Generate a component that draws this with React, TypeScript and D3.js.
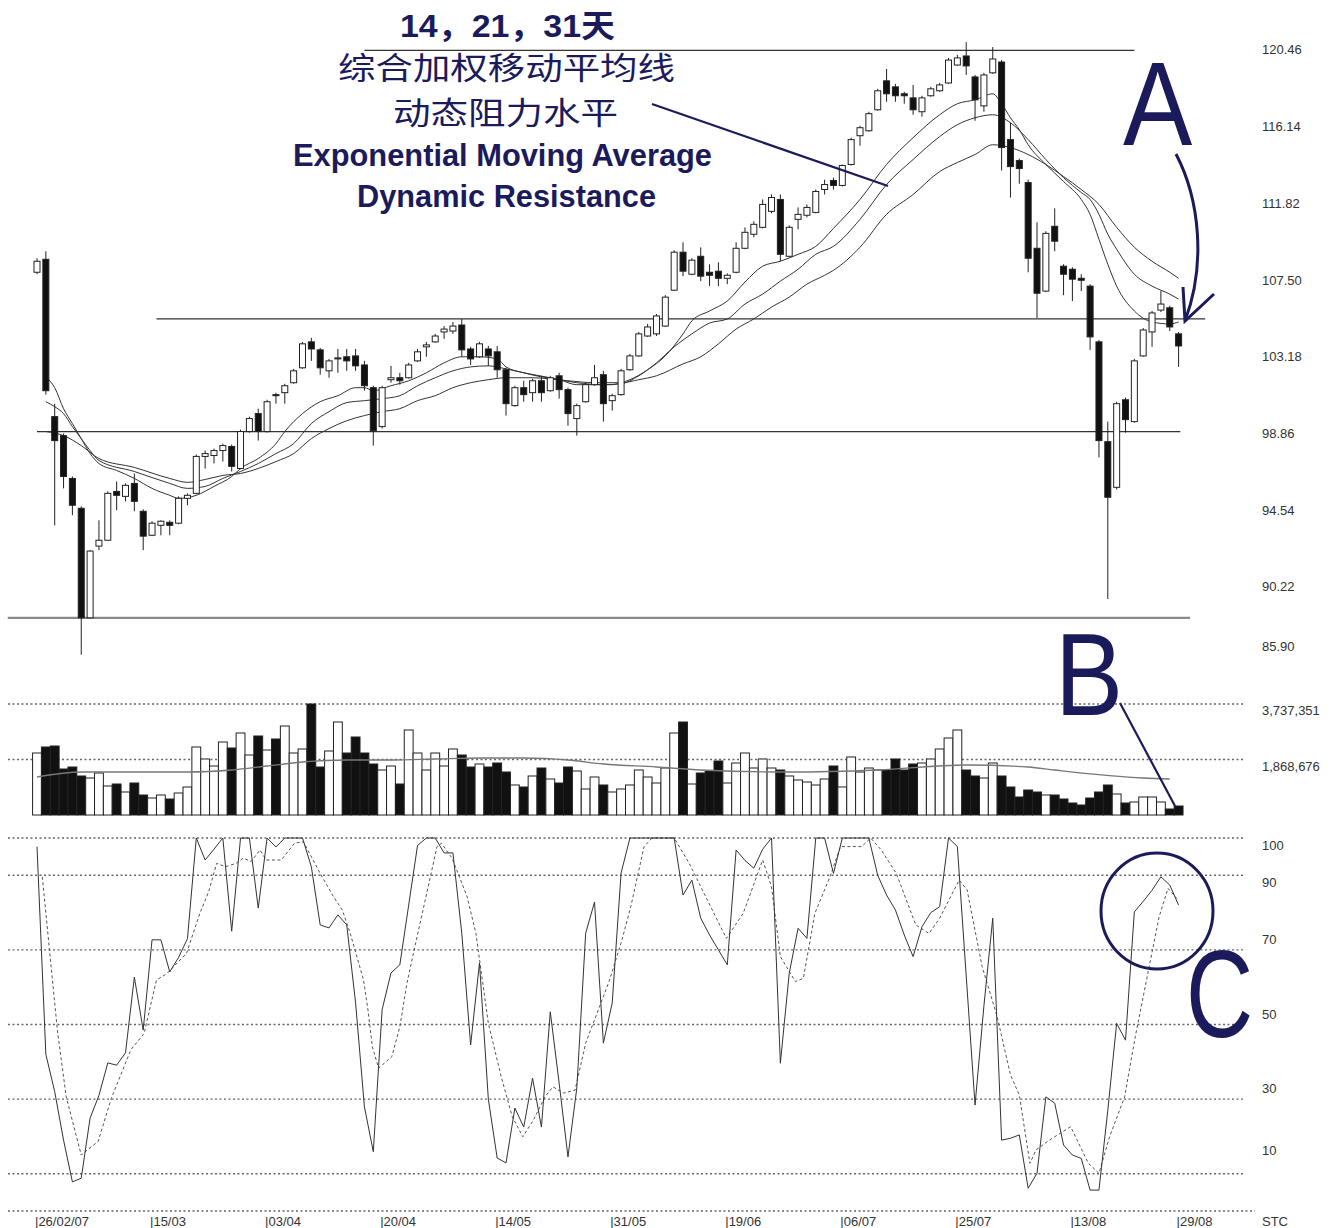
import * as d3 from "d3";

// ---------- data ----------
const tickLabels = ["26/02/07", "15/03", "03/04", "20/04", "14/05", "31/05", "19/06", "06/07", "25/07", "13/08", "29/08"];
const tickBars = [0, 13, 26, 39, 52, 65, 78, 91, 104, 117, 129];

const opens = [
  108.0, 108.73, 99.87, 98.8, 96.39, 94.71, 88.54, 92.58, 92.91, 95.66,
  95.38, 96.11, 94.54, 93.19, 93.75, 93.92, 93.87, 95.27, 95.55, 97.63,
  97.68, 97.96, 98.19, 96.95, 99.03, 100.04, 99.03, 101.11, 101.22, 101.78,
  102.62, 104.08, 103.63, 102.45, 103.12, 103.24, 103.29, 102.78, 101.5, 99.31,
  101.95, 102.06, 102.06, 103.01, 103.8, 104.08, 104.64, 104.69, 105.03, 103.68,
  103.24, 103.68, 103.52, 102.51, 100.49, 101.5, 101.22, 101.89, 101.33, 102.17,
  101.39, 99.76, 100.71, 101.67, 102.23, 100.77, 101.11, 102.51, 103.29, 104.41,
  104.53, 104.97, 106.99, 109.13, 107.89, 108.9, 108.0, 108.06, 107.66, 108.0,
  109.35, 110.14, 110.53, 111.43, 112.1, 108.9, 110.98, 111.21, 111.37, 112.66,
  113.17, 112.89, 114.07, 115.69, 115.97, 117.15, 118.78, 118.44, 118.05, 117.82,
  117.04, 117.94, 118.22, 118.66, 119.67, 120.18, 119.0, 117.37, 119.23, 119.84,
  115.47, 114.29, 113.05, 109.35, 106.94, 110.59, 108.34, 108.17, 107.66, 107.22,
  104.08, 98.46, 95.89, 100.82, 99.59, 103.29, 104.64, 105.87, 106.0, 104.53,
];
const highs = [
  108.79, 109.18, 100.6, 98.92, 96.5, 94.82, 92.35, 94.03, 95.66, 96.22,
  96.11, 96.67, 94.65, 93.98, 94.03, 94.03, 95.38, 95.55, 97.74, 97.96,
  98.07, 98.35, 98.3, 99.14, 99.87, 100.32, 100.82, 101.22, 101.72, 102.56,
  104.08, 104.31, 103.74, 103.12, 103.68, 103.68, 103.68, 103.01, 101.61, 101.61,
  102.73, 102.34, 102.9, 103.68, 104.08, 104.53, 104.97, 105.2, 105.37, 103.8,
  104.08, 103.85, 103.85, 102.62, 101.61, 101.89, 102.01, 102.17, 102.17, 102.34,
  101.5, 100.6, 101.78, 102.78, 102.45, 101.16, 102.56, 103.4, 104.64, 105.09,
  105.65, 106.71, 109.24, 109.69, 108.79, 109.4, 108.45, 108.56, 107.94, 109.69,
  110.53, 110.87, 112.1, 112.38, 112.38, 110.64, 111.65, 111.82, 112.66, 113.22,
  113.33, 114.07, 115.58, 116.25, 117.04, 118.33, 119.45, 118.61, 118.16, 118.55,
  117.94, 118.44, 118.66, 120.07, 120.24, 120.96, 119.11, 119.23, 120.68, 119.95,
  116.42, 114.4, 113.22, 110.81, 110.31, 111.6, 108.45, 108.28, 107.89, 107.33,
  104.19, 99.59, 100.71, 100.94, 103.12, 104.86, 105.82, 106.94, 106.12, 104.64,
];
const lows = [
  107.89, 101.11, 93.75, 95.83, 94.32, 86.46, 88.54, 92.35, 92.91, 94.6,
  95.1, 94.54, 92.35, 93.14, 93.19, 93.19, 93.81, 94.88, 95.5, 96.95,
  97.23, 97.34, 96.78, 96.9, 98.97, 98.52, 98.97, 100.6, 100.6, 101.72,
  102.56, 103.01, 102.23, 102.06, 102.34, 102.45, 102.45, 101.33, 98.24, 99.2,
  101.78, 101.67, 102.01, 102.95, 103.24, 104.03, 104.25, 104.53, 103.24, 102.78,
  103.18, 102.73, 102.06, 99.93, 100.43, 100.71, 100.71, 100.71, 101.27, 100.88,
  99.36, 98.8, 100.66, 101.61, 99.59, 100.21, 101.05, 102.45, 103.24, 104.36,
  104.41, 104.92, 106.94, 107.78, 107.83, 107.5, 107.22, 107.22, 107.33, 107.94,
  109.3, 109.97, 110.47, 111.32, 108.62, 108.85, 110.42, 111.09, 111.32, 112.38,
  112.66, 112.83, 114.01, 115.13, 115.92, 117.09, 117.6, 117.6, 117.49, 116.87,
  116.76, 117.88, 118.16, 118.61, 119.62, 119.11, 116.53, 117.04, 119.17, 113.73,
  112.21, 112.99, 108.0, 105.42, 106.88, 109.18, 106.71, 106.38, 106.94, 103.63,
  97.57, 89.6, 95.77, 98.97, 99.53, 103.24, 103.8, 105.76, 104.69, 102.67,
];
const closes = [
  108.62, 101.33, 98.52, 96.5, 94.88, 88.54, 92.3, 92.91, 95.55, 95.44,
  96.0, 95.1, 93.14, 93.87, 93.98, 93.75, 95.27, 95.44, 97.63, 97.79,
  97.96, 98.24, 97.07, 99.03, 99.76, 99.03, 100.71, 101.05, 101.61, 102.45,
  103.97, 103.68, 102.62, 103.01, 103.18, 103.01, 102.73, 101.61, 99.08, 101.5,
  102.06, 101.89, 102.78, 103.52, 103.91, 104.41, 104.8, 104.97, 103.63, 103.12,
  103.97, 103.29, 102.51, 100.6, 101.5, 101.11, 101.89, 101.22, 102.06, 101.39,
  100.04, 100.49, 101.67, 102.06, 100.6, 101.05, 102.45, 103.29, 104.53, 104.92,
  105.54, 106.6, 109.13, 108.06, 108.68, 107.78, 107.83, 107.66, 107.83, 109.35,
  110.25, 110.7, 111.82, 112.21, 109.01, 110.53, 111.26, 111.65, 112.55, 112.94,
  112.89, 114.01, 115.47, 116.14, 116.93, 118.22, 118.05, 117.94, 117.94, 117.15,
  117.82, 118.33, 118.55, 119.95, 120.07, 119.62, 117.71, 119.11, 120.01, 115.02,
  113.95, 113.84, 108.79, 106.82, 110.19, 109.75, 107.89, 107.61, 107.55, 104.36,
  98.52, 95.33, 100.6, 99.7, 103.01, 104.75, 105.71, 106.21, 104.92, 103.85,
];

const volumes = [
  2087540, 2289560, 2323230, 1548820, 1616160, 1313130, 1245790, 1414140, 976430, 1043770,
  774410, 1077440, 673400, 572390, 673400, 538720, 740740, 942760, 2289560, 1885520,
  1649830, 2457910, 2255890, 2760940, 2020200, 2659930, 2188550, 2558920, 2996630, 2087540,
  2222220, 3737351, 1616160, 2154880, 3131310, 2087540, 2626260, 2087540, 1717170, 1515150,
  1649830, 1043770, 2861950, 2087540, 1515150, 2087540, 1649830, 2222220, 2020200, 1616160,
  1717170, 1616160, 1750840, 1447810, 1010100, 942760, 1313130, 1582490, 1212120, 1077440,
  1616160, 1481480, 875420, 1279460, 1010100, 774410, 875420, 1010100, 1515150, 1279460,
  1077440, 1582490, 2760940, 3131310, 1043770, 1414140, 1481480, 1818180, 1077440, 1750840,
  2087540, 1582490, 1885520, 1582490, 1515150, 1313130, 1178450, 1111110, 1010100, 1212120,
  1649830, 942760, 1952860, 1447810, 1582490, 1515150, 1515150, 1885520, 1515150, 1717170,
  1750840, 1885520, 2222220, 2592590, 2861950, 1515150, 1313130, 1245790, 1750840, 1313130,
  942760, 606060, 841750, 774410, 673400, 673400, 538720, 404040, 336700, 572390,
  774410, 1010100, 707070, 404040, 437710, 606060, 606060, 437710, 202020, 303030,
];

// volume moving average: [bar, volume]
const volAvg: [number, number][] = [
  [0, 1279460], [5, 1447810], [17, 1447810], [22, 1515150], [26, 1649830], [30, 1784510],
  [35, 1851850], [40, 1851850], [45, 1885520], [50, 1919190], [55, 1919190], [60, 1851850],
  [64, 1717170], [70, 1616160], [75, 1515150], [85, 1447810], [95, 1515150], [105, 1683500],
  [112, 1616160], [115, 1515150], [125, 1245790], [128, 1212120],
];

// EMA 14 / 21 / 31: [bar, price]
const ema14: [number, number][] = [
  [1, 102.11], [2, 101.5], [3, 100.32], [4, 99.48], [5, 98.63], [6, 97.79], [7, 97.23], [9, 96.84],
  [11, 96.39], [13, 95.83], [15, 95.44], [16, 95.27], [18, 95.44], [20, 95.94], [22, 96.5], [23, 96.95],
  [25, 97.51], [27, 98.35], [28, 99.03], [30, 100.04], [32, 100.71], [34, 101.05], [36, 101.5], [37, 101.5],
  [38, 101.33], [40, 101.61], [42, 101.89], [44, 102.34], [46, 102.9], [48, 103.24], [50, 103.24], [52, 103.12],
  [53, 102.67], [55, 102.34], [57, 102.11], [59, 101.95], [61, 101.67], [63, 101.67], [65, 101.67], [66, 101.78],
  [67, 101.95], [69, 102.51], [71, 103.29], [73, 104.53], [74, 105.26], [76, 105.82], [78, 106.38], [80, 107.45],
  [82, 108.34], [84, 108.62], [86, 109.01], [88, 109.46], [90, 110.47], [93, 112.1], [96, 114.07], [99, 115.58],
  [102, 116.87], [104, 117.49], [106, 117.71], [108, 118.05], [109, 117.49], [110, 116.7], [111, 116.03],
  [112, 115.18], [114, 114.07], [116, 113.11], [118, 112.1], [119, 111.26], [120, 109.86], [121, 108.45],
  [122, 107.22], [124, 105.82], [126, 105.2], [128, 105.09], [129, 105.2],
];
const ema21: [number, number][] = [
  [1, 100.71], [2, 100.43], [3, 100.04], [4, 99.31], [5, 98.63], [6, 97.96], [7, 97.4], [11, 96.78],
  [15, 96.11], [17, 95.83], [19, 95.94], [21, 96.39], [23, 96.78], [25, 97.23], [27, 97.79], [29, 98.35],
  [31, 99.48], [33, 100.15], [35, 100.66], [37, 100.77], [39, 100.88], [41, 101.05], [43, 101.61], [45, 102.06],
  [47, 102.45], [49, 102.67], [51, 102.73], [53, 102.56], [55, 102.34], [58, 102.06], [61, 101.78], [64, 101.67],
  [66, 101.72], [68, 102.17], [70, 102.9], [72, 103.8], [74, 104.53], [76, 105.14], [78, 105.37], [80, 106.21],
  [82, 106.77], [84, 107.5], [86, 108.17], [88, 109.01], [90, 109.46], [93, 110.98], [96, 112.94], [99, 114.35],
  [102, 115.64], [104, 116.31], [106, 116.7], [108, 116.87], [110, 116.42], [112, 115.47], [114, 114.35],
  [116, 113.33], [118, 112.49], [119, 112.1], [120, 111.26], [121, 110.14], [122, 109.3], [124, 107.89],
  [126, 107.22], [128, 106.77], [129, 106.49],
];
const ema31: [number, number][] = [
  [1, 99.03], [3, 98.8], [5, 98.24], [7, 97.51], [11, 97.01], [15, 96.39], [17, 96.17], [19, 96.33],
  [21, 96.56], [23, 96.67], [25, 96.95], [27, 97.34], [29, 97.79], [31, 98.63], [33, 99.2], [35, 99.64],
  [37, 99.93], [39, 100.15], [41, 100.32], [43, 100.77], [45, 101.05], [47, 101.5], [49, 101.78], [51, 101.95],
  [53, 102.06], [56, 102.06], [60, 101.89], [63, 101.78], [66, 101.78], [68, 101.95], [70, 102.17], [73, 102.84],
  [75, 103.24], [77, 103.97], [79, 104.8], [81, 105.37], [83, 106.04], [85, 106.6], [87, 107.33], [89, 107.83],
  [90, 108.11], [93, 109.41], [96, 111.26], [99, 112.38], [102, 113.67], [104, 114.18], [106, 114.63],
  [108, 115.18], [110, 115.02], [112, 114.63], [114, 114.07], [116, 113.39], [118, 112.66], [120, 111.82],
  [122, 110.53], [124, 109.41], [126, 108.62], [128, 108.0], [129, 107.66],
];

// stochastic %K (one per bar) and %D ([bar, value])
const stochK = [
  97.7, 42, 32, 19, 7.8, 8.8, 24.9, 31, 39.7, 39.1,
  42.4, 62.7, 48.5, 72.7, 72.7, 64.1, 68, 73, 100, 94.1,
  97, 100, 75, 100, 100, 81.2, 100, 97.6, 100, 100,
  100, 92.3, 76.7, 75.9, 79.4, 76.7, 55.8, 27.9, 15.9, 54,
  63.8, 66, 82, 98, 100, 100, 96, 96, 74.5, 44.5,
  66.5, 30, 14.2, 12.9, 27.6, 22.5, 35.6, 22.5, 53.4, 34.3,
  14.5, 33, 74.5, 82.8, 45, 55.8, 90.6, 100, 100, 100,
  100, 100, 100, 84.7, 88.7, 78.5, 74, 70, 66, 96.8,
  94, 91.9, 97, 100, 39.6, 63.7, 75.8, 73.1, 100, 100,
  90.5, 100, 100, 100, 100, 90, 84.7, 80.7, 74, 68.2,
  76.2, 80, 81.6, 100, 97.7, 63, 28.4, 55, 78.5, 19,
  19.5, 20.4, 6.1, 10.1, 30.6, 28.9, 17.7, 15, 14.1, 5.6,
  5.6, 27, 50.3, 45.8, 80.2, 83, 86, 89.6, 87.4, 82,
];
const stochD: [number, number][] = [
  [0.6, 89.6], [2.3, 48.5], [3.3, 30.6], [5, 15], [5.7, 16.4], [6.9, 18.6], [8.4, 30.2], [10.6, 43.2],
  [12.1, 47.6], [13.5, 61.9], [14.7, 63.7], [16.9, 69.1], [18.4, 79.8], [19.4, 85.6], [20.3, 93.2],
  [21.3, 92.3], [22.5, 93.2], [23.3, 94.6], [24.2, 93.7], [25.2, 96.8], [25.9, 94.1], [27.6, 94.1],
  [29.1, 98.6], [30.1, 99], [32, 90.5], [33.5, 84.3], [34.5, 80.7], [35.4, 74.4], [36.9, 61.9],
  [37.4, 53.9], [37.9, 44], [38.6, 38.3], [40.1, 41.4], [41, 49.4], [41.8, 61], [42.7, 70.9],
  [44.2, 86.9], [45.2, 97.7], [45.7, 98.6], [46.9, 94.6], [48.6, 84.3], [49.6, 74.4], [51, 50.3],
  [52.5, 35.6], [53.7, 25.3], [54.9, 19.9], [56.1, 24.4], [57.4, 30.6], [58.3, 33.3], [59.5, 31.6],
  [60.8, 32.4], [62, 45], [63.2, 52.5], [64.7, 61.9], [66.1, 72.7], [67.1, 81.6], [68.6, 97.7],
  [69.5, 100], [72, 100], [73.7, 93.2], [77.9, 73.1], [79.8, 79.8], [82, 94.1], [83, 86.9], [84, 68.2],
  [85.7, 61.5], [86.6, 62.4], [87.9, 79.8], [89.6, 89.6], [90.8, 97.7], [93.2, 97.7], [94.2, 100],
  [95.4, 96.8], [97.1, 90.5], [99.3, 76.7], [100.8, 74.4], [102, 78.5], [104.2, 88.7], [105.1, 86.1],
  [106.8, 65.5], [108.5, 52.1], [110, 36.5], [111, 31.1], [112.2, 12.8], [112.9, 16.4], [114.4, 19],
  [116.8, 22.6], [118.8, 12.8], [120, 10.1], [121.2, 19.9], [122.9, 30.6], [124.1, 46.7], [125.6, 64.6],
  [126.8, 78.9], [127.8, 86.5], [128.8, 83.8],
];

const priceTicks = [120.46, 116.14, 111.82, 107.5, 103.18, 98.86, 94.54, 90.22, 85.9];
const volumeTicks = [3737351, 1868676];
const stochTicks = [100, 90, 70, 50, 30, 10];

// horizontal support / resistance lines: price, first bar, last bar
const levels = [120.5, 105.37, 99.03, 88.54];
const levelFrom = [37, 13.5, 0, -3.3];
const levelTo = [124, 132, 129.2, 130.3];

// ---------- chart ----------
const W = 1335;
const H = 1228;
const navy = "#1b1b5c";
const axisFont = "'Liberation Sans Narrow', 'Liberation Sans', Arial, sans-serif";
const latin = "'Liberation Sans', Arial, sans-serif";
const cjk = "'Noto Sans CJK SC', sans-serif";

export default function App() {
  const x = d3.scaleLinear().domain([0, 129]).range([37, 1178.6]);
  const yP = d3.scaleLinear().domain([90.22, 120.46]).range([588, 51]);
  const yV = d3.scaleLinear().domain([0, 3737351]).range([815, 704]);
  const yS = d3.scaleLinear().domain([0, 100]).range([1211, 838]);
  const step = x(1) - x(0);

  const emaLine = d3
    .line<[number, number]>()
    .x((d) => x(d[0]))
    .y((d) => yP(d[1]))
    .curve(d3.curveMonotoneX);
  const volLine = d3
    .line<[number, number]>()
    .x((d) => x(d[0]))
    .y((d) => yV(d[1]))
    .curve(d3.curveMonotoneX);
  const kLine = d3
    .line<number>()
    .x((_, i) => x(i))
    .y((d) => yS(d));
  const dLine = d3
    .line<[number, number]>()
    .x((d) => x(d[0]))
    .y((d) => yS(d[1]));

  // the stochastic labels sit a little off their grid lines
  const stochLabelShift = [9, 8, -9, -9, -10, -22];

  return (
    <svg
      width={W}
      height={H}
      style={{ position: "absolute", left: 0, top: 0, background: "#fff" }}
    >
      {/* support / resistance levels */}
      {levels.map((p, i) => (
        <line
          key={"lv" + i}
          x1={x(levelFrom[i])}
          x2={x(levelTo[i])}
          y1={yP(p)}
          y2={yP(p)}
          stroke={i === 3 ? "#8a8a8a" : "#333"}
          strokeWidth={i === 3 ? 2.2 : 1.2}
        />
      ))}

      {/* EMA lines */}
      {[ema14, ema21, ema31].map((s, i) => (
        <path key={"ema" + i} d={emaLine(s) || ""} fill="none" stroke="#333" strokeWidth={1} />
      ))}

      {/* candles */}
      {opens.map((o, i) => {
        const c = closes[i];
        const up = c >= o;
        const top = yP(Math.max(o, c));
        const bot = yP(Math.min(o, c));
        const cx = x(i);
        return (
          <g key={"c" + i}>
            <line x1={cx} x2={cx} y1={yP(highs[i])} y2={yP(lows[i])} stroke="#222" strokeWidth={1} />
            <rect
              x={cx - 3}
              y={top}
              width={6}
              height={Math.max(bot - top, 1)}
              fill={up ? "#fff" : "#111"}
              stroke="#222"
              strokeWidth={1}
            />
          </g>
        );
      })}

      {/* volume panel */}
      {volumeTicks.map((v, i) => (
        <g key={"vt" + i}>
          <line x1={8} x2={1245} y1={yV(v)} y2={yV(v)} stroke="#666" strokeWidth={1.4} strokeDasharray="2,2.5" />
          <text x={1262} y={yV(v) + 8} fontSize={13} fill="#333" fontFamily={axisFont} dominantBaseline="middle">
            {d3.format(",")(v)}
          </text>
        </g>
      ))}
      {volumes.map((v, i) => {
        const up = closes[i] >= opens[i];
        return (
          <rect
            key={"v" + i}
            x={x(i) - step / 2}
            y={yV(v)}
            width={step}
            height={yV(0) - yV(v)}
            fill={up ? "#fff" : "#111"}
            stroke="#222"
            strokeWidth={1}
          />
        );
      })}
      <path d={volLine(volAvg) || ""} fill="none" stroke="#777" strokeWidth={1.3} />

      {/* stochastic panel */}
      {stochTicks.map((v, i) => (
        <g key={"st" + i}>
          <line x1={8} x2={1245} y1={yS(v)} y2={yS(v)} stroke="#666" strokeWidth={1.4} strokeDasharray="2,2.5" />
          <text
            x={1262}
            y={yS(v) + stochLabelShift[i]}
            fontSize={13}
            fill="#333"
            fontFamily={axisFont}
            dominantBaseline="middle"
          >
            {v}
          </text>
        </g>
      ))}
      <path d={dLine(stochD) || ""} fill="none" stroke="#555" strokeWidth={1} strokeDasharray="3,2.5" />
      <path d={kLine(stochK) || ""} fill="none" stroke="#333" strokeWidth={1} />

      {/* price labels */}
      {priceTicks.map((p) => (
        <text
          key={"pt" + p}
          x={1262}
          y={Math.min(yP(p), 648)}
          fontSize={13}
          fill="#333"
          fontFamily={axisFont}
          dominantBaseline="middle"
        >
          {p.toFixed(2)}
        </text>
      ))}

      {/* date axis */}
      <line x1={8} x2={1255} y1={yS(0)} y2={yS(0)} stroke="#666" strokeWidth={1.4} strokeDasharray="2,2.5" />
      {tickLabels.map((t, i) => (
        <text key={"dt" + t} x={x(tickBars[i]) - 2} y={1226} fontSize={13} fill="#333" fontFamily={axisFont}>
          {"|" + t}
        </text>
      ))}
      <text x={1262} y={1226} fontSize={13} fill="#333" fontFamily={axisFont}>
        STC
      </text>

      {/* annotations */}
      <g fill={navy}>
        <text x={400} y={37} fontSize={32} fontWeight="bold" textLength={215} lengthAdjust="spacingAndGlyphs" fontFamily={`${latin}, ${cjk}`}>
          14，21，31天
        </text>
        <text x={338} y={79} fontSize={31} textLength={337} lengthAdjust="spacingAndGlyphs" fontFamily={cjk}>
          综合加权移动平均线
        </text>
        <text x={393} y={124} fontSize={31} textLength={225} lengthAdjust="spacingAndGlyphs" fontFamily={cjk}>
          动态阻力水平
        </text>
        <text x={293} y={166} fontSize={32} fontWeight="bold" textLength={419} lengthAdjust="spacingAndGlyphs" fontFamily={latin}>
          Exponential Moving Average
        </text>
        <text x={357} y={207} fontSize={32} fontWeight="bold" textLength={299} lengthAdjust="spacingAndGlyphs" fontFamily={latin}>
          Dynamic Resistance
        </text>
        <text transform="translate(1123,145) scale(0.88,1)" fontSize={118} fontFamily={latin}>
          A
        </text>
        <text transform="translate(1055,715) scale(0.88,1)" fontSize={116} fontFamily={latin}>
          B
        </text>
        <text transform="translate(1186,1037) scale(0.75,1)" fontSize={124} fontFamily={latin}>
          C
        </text>
      </g>
      <g stroke={navy} fill="none">
        <line x1={652} y1={104} x2={888} y2={186} strokeWidth={2.2} />
        <path d="M1176,154 C1200,200 1206,265 1185,321" strokeWidth={3} />
        <path d="M1214,294 L1185,321 L1183,287" strokeWidth={3} />
        <line x1={1120} y1={703} x2={1175} y2={806} strokeWidth={2.2} />
        <ellipse cx={1157} cy={911} rx={56} ry={58} strokeWidth={3} />
      </g>
    </svg>
  );
}
